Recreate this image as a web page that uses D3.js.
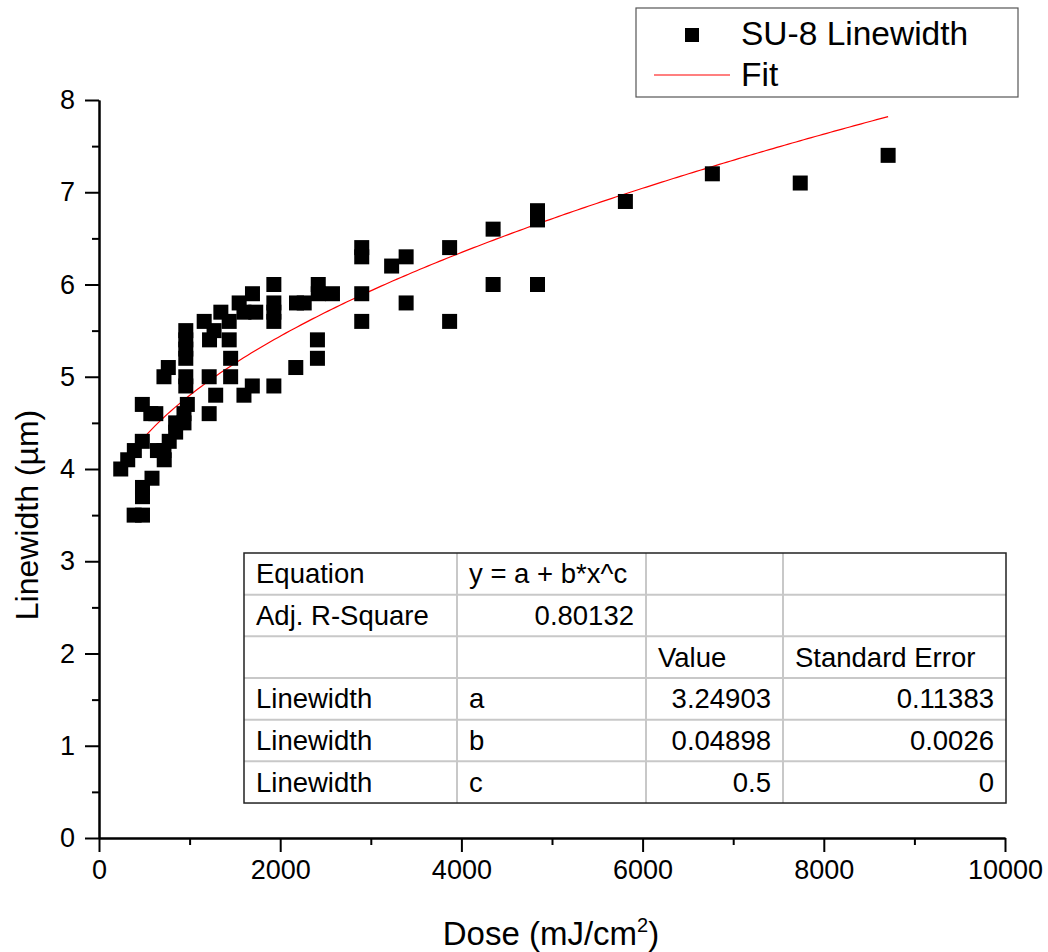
<!DOCTYPE html>
<html>
<head>
<meta charset="utf-8">
<script src="https://cdn.jsdelivr.net/npm/d3@7"></script>
<style>
  html, body { margin: 0; padding: 0; background: #fff; }
  svg { display: block; font-family: "Liberation Sans", Arial, sans-serif; }
</style>
</head>
<body>
<svg id="chart" width="1048" height="952"></svg>
<script>
// Measured SU-8 linewidth versus exposure dose
const doses = [
  240, 317, 390, 478, 478, 572, 627, 585, 480, 480, 388, 480,
  645, 717, 720, 775, 846, 846, 938, 938, 975,
  765, 717, 958, 958, 958, 958, 958, 958,
  1161, 1270, 1220, 1345, 1437, 1437, 1453, 1453, 1547, 1600, 1730, 1694,
  1216, 1216, 1288, 1600, 1692,
  1930, 1930, 1930, 1930, 1930,
  2172, 2180, 2265, 2420, 2420, 2577, 2411, 2411,
  2900, 2900, 2900, 2900, 3230, 3390, 3390, 3870, 3870,
  4350, 4350, 4840, 4840, 4840, 5810, 6770, 7740, 8710
];
const linewidths = [
  4.0, 4.1, 4.2, 4.3, 4.7, 4.6, 4.6, 3.9, 3.8, 3.7, 3.5, 3.5,
  4.2, 4.2, 4.1, 4.3, 4.4, 4.5, 4.6, 4.5, 4.7,
  5.1, 5.0, 5.5, 5.4, 5.3, 5.2, 5.0, 4.9,
  5.6, 5.5, 5.4, 5.7, 5.4, 5.6, 5.2, 5.0, 5.8, 5.7, 5.7, 5.9,
  5.0, 4.6, 4.8, 4.8, 4.9,
  6.0, 5.8, 5.7, 5.6, 4.9,
  5.1, 5.8, 5.8, 6.0, 5.9, 5.9, 5.4, 5.2,
  6.4, 6.3, 5.9, 5.6, 6.2, 6.3, 5.8, 6.4, 5.6,
  6.6, 6.0, 6.8, 6.7, 6.0, 6.9, 7.2, 7.1, 7.4
];

// Fit parameters: y = a + b*x^c
const paramNames = ["a", "b", "c"];
const paramValues = [3.24903, 0.04898, 0.5];
const paramErrors = ["0.11383", "0.0026", "0"];
const paramValueLabels = ["3.24903", "0.04898", "0.5"];
const adjRSquare = "0.80132";
const equationText = "y = a + b*x^c";

// Axis ticks
const xMajorTicks = [0, 2000, 4000, 6000, 8000, 10000];
const xMinorTicks = [1000, 3000, 5000, 7000, 9000];
const yMajorTicks = [0, 1, 2, 3, 4, 5, 6, 7, 8];
const yMinorTicks = [0.5, 1.5, 2.5, 3.5, 4.5, 5.5, 6.5, 7.5];

const svg = d3.select("#chart");
const x = d3.scaleLinear().domain([0, 10000]).range([99, 1005]);
const y = d3.scaleLinear().domain([0, 8]).range([838, 100]);

// Axes
function styleAxis(g) {
  g.selectAll("path.domain").attr("stroke", "#000").attr("stroke-width", 2);
  g.selectAll(".tick line").attr("stroke", "#000").attr("stroke-width", 2);
  g.selectAll(".tick text").attr("fill", "#000").attr("font-size", 27)
    .attr("font-family", "Liberation Sans, Arial, sans-serif");
}
const xAxisMinor = svg.append("g").attr("transform", "translate(0,838)")
  .call(d3.axisBottom(x).tickValues(xMinorTicks).tickSize(7).tickSizeOuter(0).tickFormat(""));
styleAxis(xAxisMinor);
const xAxis = svg.append("g").attr("transform", "translate(0,838)")
  .call(d3.axisBottom(x).tickValues(xMajorTicks).tickSize(14).tickSizeOuter(0).tickPadding(8).tickFormat(d3.format("d")));
styleAxis(xAxis);

const yAxisMinor = svg.append("g").attr("transform", "translate(99,0)")
  .call(d3.axisLeft(y).tickValues(yMinorTicks).tickSize(7).tickSizeOuter(0).tickFormat(""));
styleAxis(yAxisMinor);
const yAxis = svg.append("g").attr("transform", "translate(99,0)")
  .call(d3.axisLeft(y).tickValues(yMajorTicks).tickSize(14).tickSizeOuter(0).tickPadding(10).tickFormat(d3.format("d")));
styleAxis(yAxis);

// Axis titles
const xTitle = svg.append("text")
  .attr("x", 551).attr("y", 945)
  .attr("text-anchor", "middle").attr("font-size", 33);
xTitle.append("tspan").text("Dose (mJ/cm");
xTitle.append("tspan").attr("dy", -13).attr("font-size", 20).text("2");
xTitle.append("tspan").attr("dy", 13).text(")");

svg.append("text")
  .attr("transform", "translate(38,515) rotate(-90)")
  .attr("text-anchor", "middle").attr("font-size", 32)
  .text("Linewidth (µm)");

// Fit curve across the measured dose range
const fitA = paramValues[0], fitB = paramValues[1], fitC = paramValues[2];
const xMin = d3.min(doses), xMax = d3.max(doses);
const fitX = d3.range(0, 201).map(i => xMin + (xMax - xMin) * i / 200);
svg.append("path")
  .datum(fitX)
  .attr("fill", "none").attr("stroke", "#ff0000").attr("stroke-width", 1.2)
  .attr("d", d3.line().x(d => x(d)).y(d => y(fitA + fitB * Math.pow(d, fitC))));

// Data markers
const points = doses.map((d, i) => ({ dose: d, lw: linewidths[i] }));
const ms = 15;
svg.append("g").selectAll("rect").data(points).join("rect")
  .attr("x", d => x(d.dose) - ms / 2)
  .attr("y", d => y(d.lw) - ms / 2)
  .attr("width", ms).attr("height", ms)
  .attr("fill", "#000");

// Parameter table
const colX = [244, 457, 646, 783, 1006];
const rowTop = 553, rowH = 41.67, nRows = 6;
const tableRows = [
  [["Equation", "l"], [equationText, "l"], ["", "l"], ["", "l"]],
  [["Adj. R-Square", "l"], [adjRSquare, "r"], ["", "l"], ["", "l"]],
  [["", "l"], ["", "l"], ["Value", "l"], ["Standard Error", "l"]]
].concat(paramNames.map((n, i) => [["Linewidth", "l"], [n, "l"], [paramValueLabels[i], "r"], [paramErrors[i], "r"]]));

const table = svg.append("g");
table.append("rect").attr("x", colX[0]).attr("y", rowTop)
  .attr("width", colX[4] - colX[0]).attr("height", rowH * nRows)
  .attr("fill", "#fff");
for (let r = 1; r < nRows; r++) {
  table.append("line").attr("x1", colX[0]).attr("x2", colX[4])
    .attr("y1", rowTop + r * rowH).attr("y2", rowTop + r * rowH)
    .attr("stroke", "#c8c8c8").attr("stroke-width", 2);
}
for (let c = 1; c < 4; c++) {
  table.append("line").attr("x1", colX[c]).attr("x2", colX[c])
    .attr("y1", rowTop).attr("y2", rowTop + rowH * nRows)
    .attr("stroke", "#c8c8c8").attr("stroke-width", 2);
}
table.append("rect").attr("x", colX[0]).attr("y", rowTop)
  .attr("width", colX[4] - colX[0]).attr("height", rowH * nRows)
  .attr("fill", "none").attr("stroke", "#222").attr("stroke-width", 1.5);

tableRows.forEach((row, r) => {
  row.forEach((cell, c) => {
    if (!cell[0]) return;
    const left = cell[1] === "l";
    table.append("text")
      .attr("x", left ? colX[c] + 12 : colX[c + 1] - 12)
      .attr("y", rowTop + r * rowH + rowH / 2 + 9.5)
      .attr("text-anchor", left ? "start" : "end")
      .attr("font-size", 27.5).attr("fill", "#000")
      .text(cell[0]);
  });
});

// Legend
const legend = svg.append("g");
legend.append("rect").attr("x", 636).attr("y", 8).attr("width", 382).attr("height", 89)
  .attr("fill", "#fff").attr("stroke", "#555").attr("stroke-width", 1.2);
legend.append("rect").attr("x", 685).attr("y", 28).attr("width", 14).attr("height", 14).attr("fill", "#000");
legend.append("text").attr("x", 741).attr("y", 45).attr("font-size", 33.5).text("SU-8 Linewidth");
legend.append("line").attr("x1", 654).attr("x2", 730).attr("y1", 75).attr("y2", 75)
  .attr("stroke", "#ff0000").attr("stroke-width", 1.2);
legend.append("text").attr("x", 741).attr("y", 86).attr("font-size", 33.5).text("Fit");
</script>
</body>
</html>
